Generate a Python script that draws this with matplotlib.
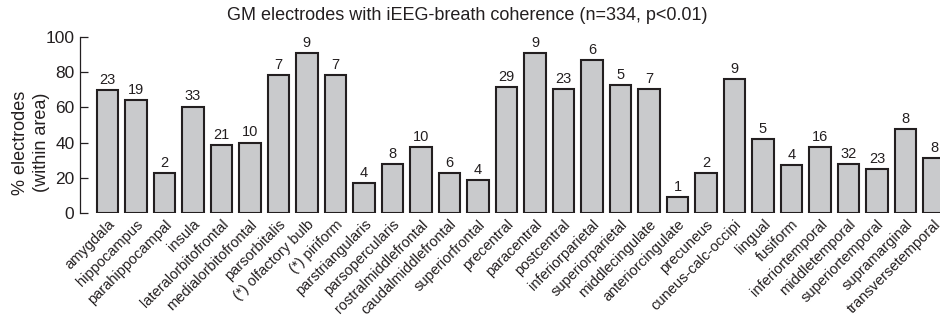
import matplotlib
matplotlib.use("Agg")
import matplotlib.pyplot as plt

plt.rcParams['font.family'] = ['Liberation Sans', 'DejaVu Sans']

# brain areas (x axis)
areas = ["amygdala", "hippocampus", "parahippocampal", "insula",
         "lateralorbitofrontal", "medialorbitofrontal", "parsorbitalis",
         "(*) olfactory bulb", "(*) piriform", "parstriangularis",
         "parsopercularis", "rostralmiddlefrontal", "caudalmiddlefrontal",
         "superiorfrontal", "precentral", "paracentral", "postcentral",
         "inferiorparietal", "superiorparietal", "middlecingulate",
         "anteriorcingulate", "precuneus", "cuneus-calc-occipi", "lingual",
         "fusiform", "inferiortemporal", "middletemporal", "superiortemporal",
         "supramarginal", "transversetemporal"]

# % electrodes within area
percent = [70, 64, 22.5, 60.5, 38.5, 40, 78.5, 91, 78.5, 17, 28, 37.5, 22.5,
           18.5, 71.5, 91, 70.5, 87, 72.5, 70.5, 9, 22.5, 76, 42, 27, 37.5,
           28, 25, 47.5, 31]

# number of electrodes above each bar
counts = [23, 19, 2, 33, 21, 10, 7, 9, 7, 4, 8, 10, 6, 4, 29, 9, 23, 6, 5, 7,
          1, 2, 9, 5, 4, 16, 32, 23, 8, 8]

fig = plt.figure(figsize=(9.4, 3.22), dpi=100)
ax = fig.add_axes([80/940, 109/322, 860/940, 176/322])

x = list(range(len(areas)))
ax.bar(x, percent, width=0.75, color='#c9cacc', edgecolor='#231f20',
       linewidth=1.5, zorder=2)

for i in x:
    ax.text(i, percent[i] + 1.8, str(counts[i]), ha='center', va='bottom',
            fontsize=10.5, color='#231f20')

ax.set_xlim(-0.96, 29.21)
ax.set_ylim(0, 100)

for s in ['top', 'right', 'bottom']:
    ax.spines[s].set_visible(False)
ax.spines['left'].set_bounds(0, 100)
ax.spines['left'].set_linewidth(0.9)
ax.spines['left'].set_color('#231f20')

ax.set_yticks([0, 20, 40, 60, 80, 100])
ax.tick_params(axis='y', direction='in', length=6, width=0.9,
               labelsize=12.5, pad=4, colors='#231f20')
ax.set_xticks(x)
ax.set_xticklabels(areas, rotation=45, ha='right', rotation_mode='anchor',
                   fontsize=10.5, color='#231f20')
ax.tick_params(axis='x', length=0, pad=3)

# two-line y label, placed by hand
ax.text(-0.057, 0.40, "% electrodes\n(within area)", transform=ax.transAxes,
        rotation=90, ha='center', va='center', multialignment='center',
        fontsize=13, color='#231f20', linespacing=1.25)

fig.text(0.497, 0.953, "GM electrodes with iEEG-breath coherence (n=334, p<0.01)",
         ha='center', va='center', fontsize=13, color='#231f20')

fig.savefig("out.png", dpi=100)
